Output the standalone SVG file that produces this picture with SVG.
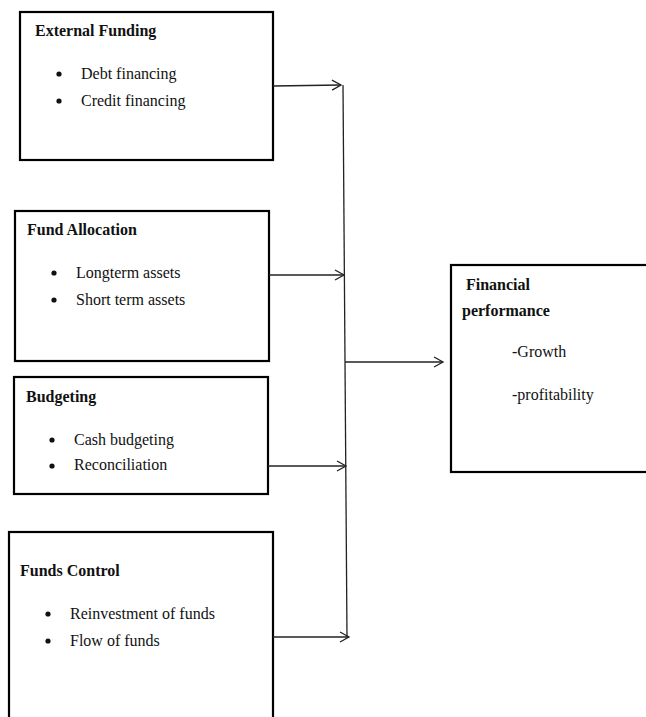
<svg xmlns="http://www.w3.org/2000/svg" width="646" height="717" viewBox="0 0 646 717">
<defs>
<marker id="arr" markerWidth="12" markerHeight="12" refX="10" refY="6" orient="auto" markerUnits="userSpaceOnUse">
<path d="M1,1 L10,6 L1,11" fill="none" stroke="#222" stroke-width="1.3"/>
</marker>
</defs>
<style>
.box{fill:#fff;stroke:#000;stroke-width:2.2}
.t{font-family:"Liberation Serif","Times New Roman",serif;font-weight:bold;font-size:16px;fill:#111}
.b{font-family:"Liberation Serif","Times New Roman",serif;font-size:16px;fill:#111}
.dot{fill:#111}
.c{fill:none;stroke:#222;stroke-width:1.3}
</style>
<rect width="646" height="717" fill="#fff"/>
<g id="external-funding">
<rect class="box" x="20" y="12" width="253" height="148"/>
<text class="t" x="35" y="36">External Funding</text>
<circle class="dot" cx="59" cy="74" r="2.6"/>
<text class="b" x="81" y="79">Debt financing</text>
<circle class="dot" cx="59" cy="101" r="2.6"/>
<text class="b" x="81" y="106">Credit financing</text>
</g>
<g id="fund-allocation">
<rect class="box" x="15" y="211" width="254" height="150"/>
<text class="t" x="27" y="235">Fund Allocation</text>
<circle class="dot" cx="54" cy="273" r="2.6"/>
<text class="b" x="76" y="278">Longterm assets</text>
<circle class="dot" cx="54" cy="300" r="2.6"/>
<text class="b" x="76" y="305">Short term assets</text>
</g>
<g id="budgeting">
<rect class="box" x="14" y="377" width="254" height="117"/>
<text class="t" x="26" y="402">Budgeting</text>
<circle class="dot" cx="52" cy="440" r="2.6"/>
<text class="b" x="74" y="445">Cash budgeting</text>
<circle class="dot" cx="52" cy="466" r="2.6"/>
<text class="b" x="74" y="470">Reconciliation</text>
</g>
<g id="funds-control">
<rect class="box" x="9" y="532" width="264" height="200"/>
<text class="t" x="20" y="576">Funds Control</text>
<circle class="dot" cx="48" cy="614" r="2.6"/>
<text class="b" x="70" y="619">Reinvestment of funds</text>
<circle class="dot" cx="48" cy="641" r="2.6"/>
<text class="b" x="70" y="646">Flow of funds</text>
</g>
<g id="financial-performance">
<rect class="box" x="451" y="265" width="200" height="207"/>
<text class="t" x="466" y="290">Financial</text>
<text class="t" x="462" y="316">performance</text>
<text class="b" x="512" y="357">-Growth</text>
<text class="b" x="512" y="400">-profitability</text>
</g>
<g id="connectors">
<line class="c" x1="343" y1="85" x2="347" y2="637"/>
<line class="c" x1="273" y1="86" x2="341" y2="85" marker-end="url(#arr)"/>
<line class="c" x1="269" y1="275" x2="344" y2="275" marker-end="url(#arr)"/>
<line class="c" x1="268" y1="466" x2="346" y2="466" marker-end="url(#arr)"/>
<line class="c" x1="273" y1="637" x2="349" y2="637" marker-end="url(#arr)"/>
<line class="c" x1="345" y1="362" x2="443" y2="362" marker-end="url(#arr)"/>
</g>
</svg>
